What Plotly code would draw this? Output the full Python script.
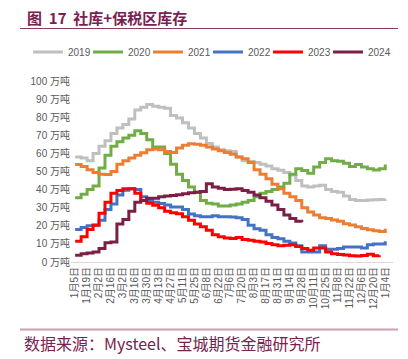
import plotly.graph_objects as go

tick_labels = ["1月5日","1月19日","2月2日","2月16日","3月2日","3月16日","3月30日","4月13日","4月27日",
               "5月11日","5月25日","6月8日","6月22日","7月6日","7月20日","8月3日","8月17日","8月31日",
               "9月14日","9月28日","10月11日","10月25日","11月8日","11月22日","12月6日","12月20日","1月4日"]

y2019 = [58, 57.5, 56, 60, 64, 67, 71, 74, 76, 79, 84, 85.5, 87, 86, 85.5, 85, 81, 79.5, 77, 74,
         71, 68.5, 65.5, 63.5, 62, 61.5, 61, 58, 56, 55.5, 55, 54, 53, 51.5, 50.7, 49.5, 48, 45,
         42, 41.5, 42, 42.4, 40, 39, 38.5, 36.5, 34.5, 34, 34, 34.2, 34.4, 34.5, 34.6]
y2020 = [35.5, 37.5, 40, 42, 52, 59, 64, 66.5, 68.5, 70, 72.5, 71, 67.5, 63.5, 63.5, 60, 54, 48.5,
         45, 41.5, 38.5, 34, 32.5, 32, 31, 31, 31.5, 32, 33, 34, 36, 38, 39, 40, 41.4, 43.5, 48.5,
         51.5, 50.5, 49, 52.5, 55, 57, 56, 55.6, 54.5, 52.8, 53.8, 52.5, 51.5, 50.8, 51.5, 53.8]
y2021 = [53.8, 52.8, 51, 49.5, 48.5, 48.3, 50, 54, 56, 57.5, 59, 60.3, 62, 62.5, 62, 61, 60.5, 63,
         64.5, 65.4, 65, 64.5, 63.5, 62.5, 61.5, 60.5, 59.5, 58, 57, 55, 51, 48.5, 46, 43, 40.5,
         38, 36, 34, 30, 27.6, 26, 24.5, 24, 23.2, 22.5, 21.2, 20.5, 19.5, 18.5, 17.8, 17.2, 16.8, 18.4]
y2022 = [18, 19, 20, 20.5, 23, 29, 32, 37, 39.6, 40.5, 40, 36, 34, 33, 32.3, 31.5, 30.4, 30.4, 29,
         26.5, 25.5, 25, 25, 25.5, 25, 25, 24.9, 24.5, 23.5, 20.3, 18.4, 17.5, 15, 13.5, 12.9, 11.5,
         10.5, 9, 5.5, 5.5, 5.5, 9, 7, 7, 7.5, 8.3, 8.3, 8.3, 7.8, 9.5, 10, 10, 11.5]
y2023 = [11.4, 14, 18, 20.3, 27, 33, 38, 39.5, 40.5, 40.5, 38, 34, 32.5, 31.3, 30, 28, 27.2, 26.7,
         25, 23, 21, 19.5, 17.5, 15, 14, 13.3, 13, 13.5, 12.5, 12, 11.5, 11, 10.2, 9.5, 9, 9.2, 9.5,
         8.5, 7.5, 6.5, 7.8, 7.8, 5.5, 4.6, 4.2, 3.8, 3.5, 3.3, 3.6, 4.3, 3.4, 3.7]
y2024 = [3.7, 4.5, 5, 5.5, 7.5, 10.7, 11, 21, 23.5, 28, 33, 34, 35.2, 35.2, 36, 36.5, 36.8, 37.2,
         37.7, 38.2, 38.5, 39, 43.3, 41.5, 40.8, 40, 40.2, 40.5, 39.5, 38.5, 37, 35.5, 33.5, 31.5,
         29, 26, 24, 22.5, 22]

series = [("2019", y2019, "#BFBFBF"), ("2020", y2020, "#70AD47"), ("2021", y2021, "#ED7D31"),
          ("2022", y2022, "#4472C4"), ("2023", y2023, "#FF0000"), ("2024", y2024, "#7B1F45")]

font_fam = "Liberation Sans, Noto Sans CJK SC, sans-serif"
maroon = "#7B2150"
OFF = 8  # page body margin
W, H = 408 - OFF, 359 - OFF
L, T, PW, PH = 71 - OFF, 81 - OFF, 322, 181


def px(x):  # page x -> paper fraction
    return (x - OFF - L) / PW


def py(y):  # page y -> paper fraction
    return 1 - (y - OFF - T) / PH


fig = go.Figure()
legend_layouts = {}
for i, (name, ys, col) in enumerate(series):
    lname = "legend" if i == 0 else f"legend{i + 1}"
    fig.add_trace(go.Scatter(x=list(range(len(ys))), y=ys, name=name, mode="lines",
                             legend=lname, line=dict(color=col, width=3, shape="hv")))
    legend_layouts[lname] = dict(orientation="h", xref="paper", yref="paper",
                                 x=px(28 + 60 * i), y=py(52), xanchor="left", yanchor="middle",
                                 font=dict(size=10, color="#595959"), bgcolor="rgba(0,0,0,0)")

fig.update_layout(
    width=W, height=H,
    margin=dict(l=L, r=W - L - PW, t=T, b=H - T - PH, autoexpand=False),
    paper_bgcolor="white", plot_bgcolor="white",
    font=dict(family=font_fam, color="#595959", size=10),
    showlegend=True,
    xaxis=dict(range=[-0.7, 53.3], tickmode="array", tickvals=list(range(0, 53, 2)),
               ticktext=tick_labels, tickangle=-90, showgrid=False, zeroline=False,
               showline=True, linecolor="#D9D9D9", linewidth=1, ticks="",
               tickfont=dict(size=10, color="#595959")),
    yaxis=dict(range=[0, 100], tickvals=list(range(0, 101, 10)),
               ticktext=[f"{v} 万吨" for v in range(0, 101, 10)], showgrid=False,
               zeroline=False, showline=False, ticks="", tickfont=dict(size=10, color="#595959")),
    annotations=[
        dict(text="<b>图  17  社库+保税区库存</b>", xref="paper", yref="paper",
             x=px(25), y=py(17), xanchor="left", yanchor="middle",
             showarrow=False, font=dict(size=15, color=maroon, family="Noto Sans CJK SC")),
        dict(text="数据来源：Mysteel、宝城期货金融研究所", xref="paper", yref="paper",
             x=px(22), y=py(343), xanchor="left", yanchor="middle",
             showarrow=False, font=dict(size=16, color=maroon, family="Noto Sans CJK SC")),
    ],
    shapes=[
        dict(type="line", xref="paper", yref="paper", x0=px(20), x1=px(398),
             y0=py(28.5), y1=py(28.5), line=dict(color="#8B3A62", width=1)),
        dict(type="line", xref="paper", yref="paper", x0=px(20), x1=px(398),
             y0=py(329.5), y1=py(329.5), line=dict(color="#C9A0B4", width=2)),
    ],
    **legend_layouts,
)

fig.write_html("out.html")
